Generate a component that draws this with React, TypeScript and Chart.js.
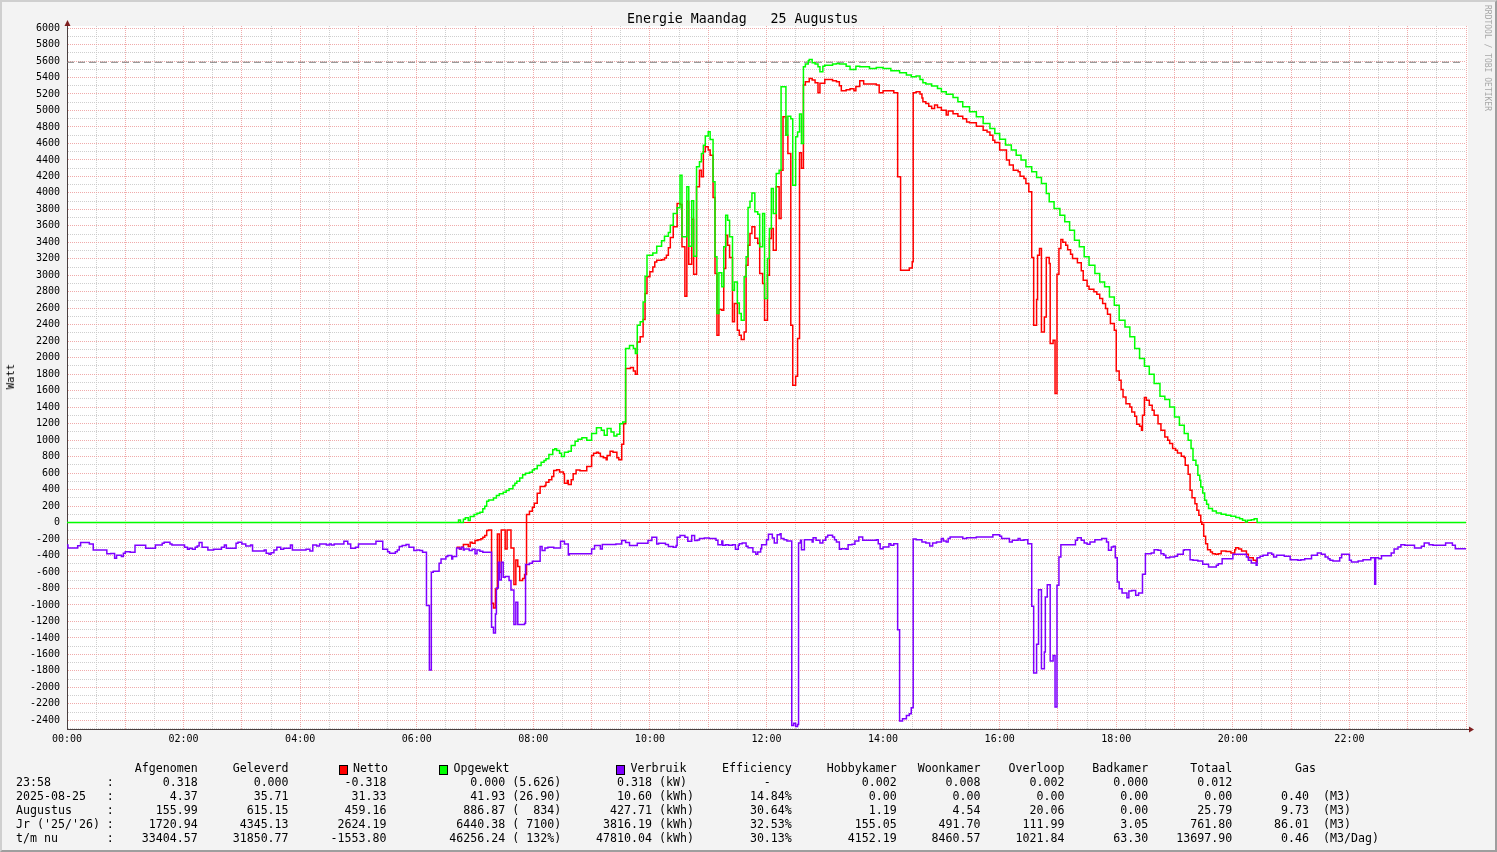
import React, { useEffect, useRef } from 'react';
import { Chart, registerables } from 'chart.js';
Chart.register(...registerables);

// ---- DATA (minute of day, watt) ----
const verbruikPoints: [number, number][] = [
  [0,-271],[1,-310],[11,-280],[14,-243],[23,-260],[27,-332],[41,-380],[45,-375],[49,-434],[51,-397],[56,-413],[58,-373],[60,-353],[65,-360],[70,-276],[81,-312],[91,-272],[98,-251],[100,-240],[106,-260],[108,-272],[121,-300],[124,-324],[126,-312],[129,-324],[132,-300],[134,-284],[136,-243],[139,-300],[145,-332],[151,-324],[159,-300],[162,-272],[164,-312],[174,-251],[176,-240],[180,-260],[184,-284],[189,-272],[191,-345],[203,-333],[205,-373],[208,-385],[210,-365],[213,-333],[216,-300],[220,-324],[223,-312],[230,-272],[232,-332],[246,-324],[250,-345],[253,-272],[257,-284],[260,-260],[267,-272],[270,-260],[272,-272],[275,-260],[285,-227],[289,-260],[292,-312],[297,-300],[300,-260],[318,-227],[325,-324],[330,-353],[332,-373],[338,-353],[340,-333],[342,-292],
  [345,-279],[349,-267],[352,-300],[357,-340],[360,-332],[363,-340],[366,-360],[370,-1008],[373,-1789],[375,-603],[377,-590],[383,-494],[385,-441],[390,-413],[392,-400],[396,-441],[397,-413],[401,-308],[404,-320],[406,-300],[408,-332],[409,-320],[414,-340],[417,-324],[420,-380],[422,-332],[425,-348],[428,-360],[437,-1271],[439,-1340],[441,-1109],[442,-793],[444,-482],[445,-696],[447,-482],[449,-664],[451,-656],[455,-704],[457,-817],[460,-1238],[462,-967],[464,-1238],[471,-1222],[472,-510],[476,-494],[479,-469],[487,-291],[489,-340],[492,-308],[495,-300],[501,-308],[508,-227],[512,-259],[516,-393],[517,-380],[540,-320],[543,-279],[549,-320],[551,-267],[565,-259],[571,-219],[575,-243],[579,-279],[587,-251],[598,-219],[602,-178],[607,-259],[609,-251],[616,-267],[619,-291],[624,-300],[627,-279],[628,-178],[631,-158],[636,-178],[639,-227],[643,-158],[646,-219],[649,-211],
  [651,-195],[656,-187],[661,-195],[668,-216],[670,-268],[674,-224],[675,-276],[678,-268],[681,-276],[685,-268],[688,-325],[691,-276],[692,-256],[695,-248],[699,-288],[701,-305],[706,-357],[709,-386],[711,-357],[714,-317],[715,-268],[720,-208],[722,-143],[726,-187],[728,-248],[731,-147],[734,-135],[735,-195],[738,-208],[741,-224],[746,-2462],[748,-2434],[750,-2474],[752,-2450],[753,-248],[755,-216],[756,-329],[759,-208],[767,-236],[768,-183],[771,-216],[775,-248],[778,-216],[781,-175],[783,-155],[788,-175],[790,-208],[792,-236],[795,-325],[797,-317],[802,-325],[804,-268],[808,-264],[811,-224],[815,-175],[819,-216],[833,-208],[835,-256],[837,-317],[840,-297],[846,-256],[848,-276],[851,-256],[855,-1300],[857,-2409],[860,-2381],[864,-2340],[867,-2320],[869,-2247],[871,-199],[874,-208],[880,-236],[884,-248],[888,-284],[891,-248],[895,-236],[900,-195],[902,-224],[905,-236],[907,-195],[909,-175],[922,-195],[926,-183],[936,-175],[953,-147],
  [960,-167],[962,-195],[970,-236],[973,-216],[979,-195],[981,-216],[985,-208],[989,-256],[993,-1017],[995,-1826],[998,-1478],[1000,-815],[1003,-1774],[1006,-1571],[1007,-904],[1009,-754],[1012,-1681],[1015,-1612],[1017,-2239],[1019,-762],[1021,-418],[1023,-268],[1038,-216],[1040,-183],[1044,-216],[1047,-248],[1050,-264],[1053,-236],[1058,-208],[1065,-195],[1070,-236],[1072,-337],[1075,-297],[1077,-288],[1079,-426],[1081,-722],[1083,-802],[1086,-855],[1091,-912],[1093,-831],[1096,-823],[1100,-883],[1103,-855],[1107,-628],[1110,-378],[1116,-370],[1119,-329],[1123,-337],[1126,-378],[1129,-398],[1131,-426],[1135,-418],[1140,-410],[1143,-386],[1149,-337],[1150,-329],[1156,-450],[1159,-458],[1164,-466],[1169,-507],[1175,-540],[1183,-519],[1185,-499],[1189,-438],[1200,-386],[1214,-418],[1216,-458],[1219,-491],[1224,-519],[1225,-426],[1228,-410],[1231,-398],[1236,-370],[1240,-386],[1242,-418],[1245,-398],[1253,-410],[1259,-450],[1267,-458],[1270,-450],[1274,-438],[1281,-398],[1287,-370],[1291,-386],[1295,-418],[1298,-438],[1300,-458],[1303,-466],[1310,-426],[1312,-386],[1320,-458],[1322,-479],[1329,-466],[1334,-450],[1342,-426],[1346,-750],[1347,-426],[1350,-438],[1353,-402],[1363,-370],[1366,-321],[1370,-297],[1373,-268],[1377,-276],[1387,-309],[1394,-288],[1397,-248],[1402,-268],[1406,-276],[1419,-248],[1426,-276],[1429,-317],[1440,-317],
];

const opgewektPoints: [number, number][] = [
  [0,0],[403,30],[405,0],[408,40],[410,57],[413,25],[415,73],[419,97],[422,113],[425,125],[428,166],[430,198],[432,259],[434,275],[439,299],[442,328],[445,348],[449,368],[452,389],[455,409],[459,449],[461,478],[463,502],[466,542],[469,579],[472,599],[476,611],[479,639],[481,652],[484,692],[488,732],[491,753],[493,773],[496,826],[500,882],[502,894],[504,874],[507,842],[509,801],[512,854],[516,866],[519,935],[523,987],[526,1010],[530,1030],[535,1000],[540,1080],[545,1150],[550,1120],[553,1060],[556,1140],[560,1100],[563,1050],[566,1070],[569,1200],[572,1220],
  [575,2111],[579,2147],[583,2111],[585,2050],[587,2394],[590,2435],[593,2677],[595,2989],[597,3244],[603,3272],[607,3353],[612,3420],[615,3475],[619,3520],[621,3608],[624,3750],[628,3820],[631,4215],[633,3467],[638,4074],[640,3353],[643,3904],[645,3232],[648,4316],[651,4377],[653,4478],[655,4579],[657,4689],[660,4741],[662,4648],[665,4134],[667,3224],[669,2536],[671,3030],[674,2860],[676,3345],[678,3730],[680,3669],[682,3467],[685,2819],[687,2920],[690,2665],[692,2536],[694,2455],[697,2981],[699,3224],[701,3823],[703,3900],
  [705,4000],[708,3770],[711,3740],[713,3345],[716,3750],[718,2718],[721,3203],[723,3567],[725,4053],[727,3750],[730,4235],[733,4276],[735,5287],[740,4700],[742,4931],[745,4900],[747,4094],[750,4680],[752,4740],[754,4956],[756,4600],[758,5530],[760,5563],[763,5603],[764,5619],[767,5579],[770,5563],[773,5530],[775,5470],[778,5538],[780,5550],[788,5563],[792,5571],[795,5563],[802,5538],[806,5498],[812,5538],[816,5530],[826,5510],[833,5522],[840,5510],[848,5482],[857,5458],[864,5429],[869,5409],[874,5417],[878,5376],[881,5336],[884,5320],[890,5296],[896,5267],[900,5227],[905,5198],[912,5158],[917,5105],[922,5045],[929,4984],[936,4923],[943,4842],[950,4782],[955,4721],
  [960,4650],[966,4580],[972,4519],[977,4458],[982,4398],[987,4317],[993,4256],[998,4187],[1003,4114],[1008,3993],[1011,3892],[1016,3811],[1022,3730],[1027,3650],[1032,3548],[1037,3426],[1042,3345],[1047,3224],[1052,3123],[1058,3022],[1063,2920],[1068,2860],[1073,2738],[1078,2637],[1083,2455],[1089,2374],[1094,2253],[1099,2111],[1104,1990],[1109,1897],[1114,1800],[1119,1686],[1125,1532],[1130,1492],[1135,1403],[1140,1281],[1145,1180],[1150,1079],[1154,998],[1157,897],[1159,756],[1162,695],[1164,573],[1166,513],[1167,432],[1169,359],[1171,270],[1173,221],[1175,169],[1179,141],[1183,116],[1188,100],[1193,88],[1198,76],[1203,60],[1207,47],[1210,27],[1213,7],[1215,27],[1219,35],[1222,47],[1225,0],[1440,0],
];

const nettoPoints: [number, number][] = [
  [401,-300],[404,-320],[406,-300],[408,-267],[413,-290],[415,-239],[417,-250],[420,-219],[423,-210],[426,-198],[428,-178],[430,-158],[432,-97],[434,-89],[437,-979],[439,-1036],[441,-805],[443,-138],[445,-603],[447,-89],[451,-320],[453,-89],[457,-308],[460,-753],[462,-453],[464,-534],[466,-704],[469,-680],[471,-631],[473,97],[476,138],[479,186],[481,235],[484,356],[487,437],[492,450],[493,490],[496,518],[499,559],[501,631],[504,640],[507,612],[511,592],[512,478],[515,510],[516,461],[519,518],[521,592],[524,639],[528,630],[535,680],[540,813],[542,842],[545,854],[547,842],[549,801],[552,785],[555,761],[556,813],[559,866],[562,854],[566,785],[568,761],[571,950],[573,1200],
  [575,1868],[580,1880],[583,1840],[585,1800],[587,2192],[590,2253],[593,2463],[595,2779],[597,2981],[600,3042],[603,3102],[605,3160],[607,3183],[612,3190],[615,3210],[617,3244],[619,3333],[621,3458],[624,3588],[628,3871],[631,3860],[633,3345],[636,2746],[638,3900],[640,3135],[643,3680],[645,3013],[648,4074],[651,4276],[653,4195],[655,4498],[657,4559],[660,4519],[662,4458],[665,3944],[667,3021],[669,2273],[671,2584],[674,2576],[676,3082],[678,3487],[680,3365],[682,3216],[685,2435],[687,2657],[690,2333],[692,2273],[694,2220],[697,2313],[699,3123],[701,3365],[703,3507],
  [705,3588],[708,3450],[711,3385],[713,3021],[716,2900],[718,2454],[721,3001],[723,3446],[725,3567],[727,3304],[730,4073],[733,3689],[735,4276],[737,4923],[740,4700],[742,4478],[745,2394],[747,1665],[750,1775],[752,2232],[754,4486],[756,4300],[758,5308],[760,5348],[764,5389],[767,5370],[770,5336],[773,5215],[775,5330],[780,5376],[788,5360],[792,5350],[795,5300],[797,5239],[802,5250],[806,5265],[810,5239],[812,5290],[816,5360],[820,5320],[833,5310],[836,5215],[840,5240],[851,5215],[855,4195],[858,3062],[867,3090],[870,3163],[871,5215],[874,5227],[878,5200],[880,5150],[881,5105],[884,5085],[887,5050],[890,5024],[893,5065],[896,5036],[900,5004],[905,4944],[907,4995],[912,4960],[917,4931],[922,4900],[926,4860],[929,4850],[936,4810],[943,4761],[947,4740],[950,4700],[953,4640],[955,4610],
  [960,4520],[967,4398],[970,4337],[974,4276],[979,4256],[981,4203],[985,4175],[987,4114],[990,4013],[993,3216],[995,2394],[998,2706],[999,3244],[1001,3325],[1003,2313],[1006,2495],[1008,3216],[1011,3143],[1012,2172],[1015,2212],[1017,1565],[1019,3014],[1021,3325],[1023,3434],[1025,3400],[1028,3366],[1030,3310],[1033,3256],[1035,3204],[1040,3151],[1044,3054],[1046,2941],[1050,2868],[1052,2830],[1057,2799],[1060,2770],[1063,2718],[1066,2657],[1069,2597],[1071,2528],[1074,2415],[1078,2334],[1080,1840],[1083,1727],[1085,1613],[1087,1524],[1090,1443],[1094,1403],[1096,1342],[1099,1289],[1101,1192],[1104,1168],[1106,1120],[1107,1302],[1109,1516],[1111,1484],[1114,1423],[1117,1362],[1119,1302],[1123,1200],[1126,1120],[1130,1039],[1133,998],[1135,958],[1138,897],[1141,877],[1143,845],[1147,804],[1150,790],[1151,695],[1154,586],[1156,391],[1158,302],[1161,229],[1163,149],[1165,88],[1167,7],[1168,-21],[1170,-167],[1172,-256],[1174,-329],[1177,-357],[1179,-378],[1182,-386],[1185,-378],[1188,-345],[1193,-350],[1198,-370],[1202,-329],[1203,-305],[1206,-320],[1209,-345],[1214,-386],[1216,-426],[1221,-458],[1224,-479],[1225,-426],
];

const zeroLine: [number, number][] = [[0, 0], [1440, 0]];
const peakLine: [number, number][] = [[0, 5585], [1436, 5585]];

const yMin = -2505;
const yMax = 6025;

// ---- legend table ----
const rowLabels = ['23:58', '2025-08-25', 'Augustus', "Jr ('25/'26)", 't/m nu'];
const afgenomen = ['0.318', '4.37', '155.99', '1720.94', '33404.57'];
const geleverd = ['0.000', '35.71', '615.15', '4345.13', '31850.77'];
const netto = ['-0.318', '31.33', '459.16', '2624.19', '-1553.80'];
const opgewekt = ['0.000', '41.93', '886.87', '6440.38', '46256.24'];
const opgewektExtra = ['(5.626)', '(26.90)', '(  834)', '( 7100)', '( 132%)'];
const verbruik = ['0.318', '10.60', '427.71', '3816.19', '47810.04'];
const verbruikUnit = ['(kW)', '(kWh)', '(kWh)', '(kWh)', '(kWh)'];
const efficiency = ['-', '14.84%', '30.64%', '32.53%', '30.13%'];
const hobbykamer = ['0.002', '0.00', '1.19', '155.05', '4152.19'];
const woonkamer = ['0.008', '0.00', '4.54', '491.70', '8460.57'];
const overloop = ['0.002', '0.00', '20.06', '111.99', '1021.84'];
const badkamer = ['0.000', '0.00', '0.00', '3.05', '63.30'];
const totaal = ['0.012', '0.00', '25.79', '761.80', '13697.90'];
const gas = ['', '0.40', '9.73', '86.01', '0.46'];
const gasUnit = ['', '(M3)', '(M3)', '(M3)', '(M3/Dag)'];

const RED = '#ff0000';
const GREEN = '#00ff00';
const PURPLE = '#7f00ff';
const MONO = '"DejaVu Sans Mono", monospace';
const LEG_FONT = 11.627;
const GRID_MAJOR = 'rgba(236,150,150,0.8)';
const GRID_MINOR = 'rgba(195,195,195,0.8)';

function buildRow(i: number): string {
  let s = rowLabels[i].padEnd(13) + ':';
  const put = (t: string, end: number) => {
    s = s.padEnd(end - t.length) + t;
  };
  put(afgenomen[i], 26);
  put(geleverd[i], 39);
  put(netto[i], 53);
  put(opgewekt[i], 70);
  s += ' ' + opgewektExtra[i];
  put(verbruik[i], 91);
  s += ' ' + verbruikUnit[i];
  if (efficiency[i] === '-') put('-', 108);
  else put(efficiency[i], 111);
  put(hobbykamer[i], 126);
  put(woonkamer[i], 138);
  put(overloop[i], 150);
  put(badkamer[i], 162);
  put(totaal[i], 174);
  if (gas[i]) {
    put(gas[i], 185);
    s += '  ' + gasUnit[i];
  }
  return s;
}

function buildHeader(): string {
  let s = '';
  const put = (t: string, end: number) => {
    s = s.padEnd(end - t.length) + t;
  };
  put('Afgenomen', 26);
  put('Geleverd', 39);
  put('Efficiency', 111);
  put('Hobbykamer', 126);
  put('Woonkamer', 138);
  put('Overloop', 150);
  put('Badkamer', 162);
  put('Totaal', 174);
  put('Gas', 186);
  return s;
}

const toXY = (pts: [number, number][]) => pts.map(([x, y]) => ({ x, y }));

export default function App() {
  const canvasRef = useRef<HTMLCanvasElement | null>(null);

  useEffect(() => {
    document.body.style.margin = '0';
    const canvas = canvasRef.current;
    if (!canvas) return;

    const framePlugin = {
      id: 'frame',
      beforeDraw(chart: any) {
        const { ctx, chartArea: a } = chart;
        ctx.save();
        ctx.fillStyle = '#ffffff';
        ctx.fillRect(a.left, a.top, a.right - a.left + 2, a.bottom - a.top);
        ctx.restore();
      },
      afterDraw(chart: any) {
        const { ctx, chartArea: a } = chart;
        ctx.save();
        ctx.strokeStyle = '#4a4040';
        ctx.lineWidth = 1;
        ctx.beginPath();
        ctx.moveTo(a.left + 0.5, a.top);
        ctx.lineTo(a.left + 0.5, a.top - 2);
        ctx.moveTo(a.right, Math.round(a.bottom) + 0.5);
        ctx.lineTo(a.right + 4, Math.round(a.bottom) + 0.5);
        ctx.stroke();
        ctx.fillStyle = '#7f1f1f';
        ctx.beginPath();
        ctx.moveTo(a.left + 0.5 - 3, a.top);
        ctx.lineTo(a.left + 0.5 + 3, a.top);
        ctx.lineTo(a.left + 0.5, a.top - 6);
        ctx.closePath();
        ctx.fill();
        const yb = Math.round(a.bottom) + 0.5;
        ctx.beginPath();
        ctx.moveTo(a.right + 3, yb - 3);
        ctx.lineTo(a.right + 3, yb + 3);
        ctx.lineTo(a.right + 8, yb);
        ctx.closePath();
        ctx.fill();
        ctx.restore();
      },
    };

    const tickFont = { family: MONO, size: 10 };

    const chart = new Chart(canvas, {
      type: 'line',
      data: {
        datasets: [
          {
            label: 'Verbruik',
            data: toXY(verbruikPoints),
            borderColor: PURPLE,
            borderWidth: 1.5,
            stepped: true,
            pointRadius: 0,
            fill: false,
            order: 0,
          },
          {
            label: 'Opgewekt',
            data: toXY(opgewektPoints),
            borderColor: GREEN,
            borderWidth: 1.5,
            stepped: true,
            pointRadius: 0,
            fill: false,
            order: 1,
          },
          {
            label: 'Netto',
            data: toXY(nettoPoints),
            borderColor: RED,
            borderWidth: 1.5,
            stepped: true,
            pointRadius: 0,
            fill: false,
            order: 2,
          },
          {
            label: 'Nul',
            data: toXY(zeroLine),
            borderColor: RED,
            borderWidth: 1,
            pointRadius: 0,
            fill: false,
            order: 3,
          },
          {
            label: 'Piek',
            data: toXY(peakLine),
            borderColor: '#7a7a7a',
            borderWidth: 1,
            borderDash: [7, 4],
            pointRadius: 0,
            fill: false,
            order: 4,
          },
        ],
      },
      options: {
        animation: false,
        responsive: false,
        devicePixelRatio: 1,
        parsing: false as any,
        events: [],
        layout: { padding: { left: 0, top: 26, right: 31, bottom: 103 } },
        plugins: {
          legend: { display: false },
          tooltip: { enabled: false },
          title: { display: false },
        },
        scales: {
          x: {
            type: 'linear',
            min: 0,
            max: 1440,
            afterFit: (s: any) => {
              s.height = 20;
            },
            ticks: {
              stepSize: 30,
              autoSkip: false,
              maxRotation: 0,
              minRotation: 0,
              includeBounds: false,
              padding: 4,
              color: '#000',
              font: tickFont,
              callback: (v: any) => {
                const n = Number(v);
                if (n % 120 !== 0 || n >= 1440) return '';
                return String(n / 60).padStart(2, '0') + ':00';
              },
            },
            grid: {
              drawTicks: false,
              lineWidth: 1,
              color: (ctx: any) => (ctx.tick && ctx.tick.value % 60 === 0 ? GRID_MAJOR : GRID_MINOR),
            },
            border: { display: true, color: '#4a4040', width: 1, dash: [1, 1] },
          },
          y: {
            type: 'linear',
            min: yMin,
            max: yMax,
            afterFit: (s: any) => {
              s.width = 67;
            },
            ticks: {
              stepSize: 100,
              autoSkip: false,
              includeBounds: false,
              padding: 7,
              color: '#000',
              font: tickFont,
              callback: (v: any) => {
                const n = Number(v);
                return n % 200 === 0 ? String(n) : '';
              },
            },
            grid: {
              drawTicks: false,
              lineWidth: 1,
              color: (ctx: any) => (ctx.tick && ctx.tick.value % 200 === 0 ? GRID_MAJOR : GRID_MINOR),
            },
            border: { display: true, color: '#4a4040', width: 1, dash: [1, 1] },
          },
        },
      } as any,
      plugins: [framePlugin],
    });

    return () => chart.destroy();
  }, []);

  const rowTops = [775, 789, 803, 817, 831];
  const textStyle: React.CSSProperties = {
    position: 'absolute',
    fontFamily: MONO,
    fontSize: LEG_FONT,
    lineHeight: '14px',
    whiteSpace: 'pre',
    color: '#000',
    margin: 0,
  };
  const box = (left: number, color: string): React.CSSProperties => ({
    position: 'absolute',
    left,
    top: 763,
    width: 7,
    height: 8,
    background: color,
    border: '1px solid #000',
  });

  return (
    <div
      style={{
        position: 'absolute',
        left: 0,
        top: 0,
        width: 1497,
        height: 852,
        boxSizing: 'border-box',
        background: '#f3f3f3',
        borderTop: '2px solid #cfcfcf',
        borderLeft: '2px solid #cfcfcf',
        borderRight: '2px solid #9e9e9e',
        borderBottom: '2px solid #9e9e9e',
        overflow: 'hidden',
      }}
    >
      <canvas
        ref={canvasRef}
        width={1497}
        height={852}
        style={{ position: 'absolute', left: -2, top: -2, width: 1497, height: 852 }}
      />
      <div style={{ ...textStyle, left: 625, top: 9, fontSize: 13.25, lineHeight: '16px' }}>
        {'Energie Maandag   25 Augustus'}
      </div>
      <div
        style={{
          ...textStyle,
          fontSize: 10.5,
          left: 2,
          top: 362,
          lineHeight: '12px',
          writingMode: 'vertical-rl',
          transform: 'rotate(180deg)',
        }}
      >
        Watt
      </div>
      <div
        style={{
          ...textStyle,
          fontSize: 8,
          lineHeight: '8px',
          left: 1481,
          top: 3,
          color: '#a8a8a8',
          writingMode: 'vertical-rl',
        }}
      >
        RRDTOOL / TOBI OETIKER
      </div>
      <div style={{ ...textStyle, left: 14, top: 759 }}>{buildHeader()}</div>
      <div style={box(337, RED)} />
      <div style={{ ...textStyle, left: 351, top: 759 }}>Netto</div>
      <div style={box(437, GREEN)} />
      <div style={{ ...textStyle, left: 451.5, top: 759 }}>Opgewekt</div>
      <div style={box(614, PURPLE)} />
      <div style={{ ...textStyle, left: 628.5, top: 759 }}>Verbruik</div>
      {rowLabels.map((_, i) => (
        <div key={i} style={{ ...textStyle, left: 14, top: rowTops[i] - 2 }}>
          {buildRow(i)}
        </div>
      ))}
    </div>
  );
}
